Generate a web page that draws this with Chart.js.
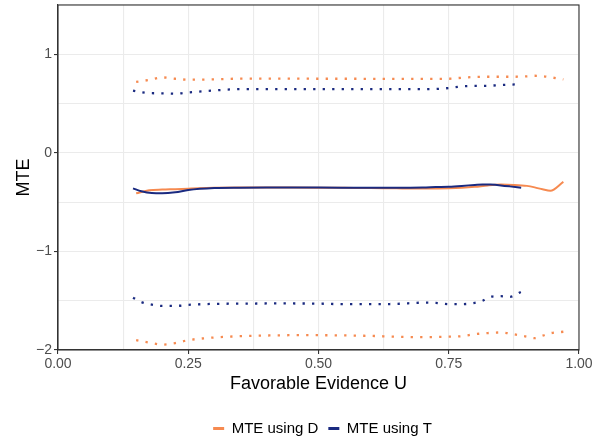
<!DOCTYPE html>
<html>
<head>
<meta charset="utf-8">
<script src="https://cdn.jsdelivr.net/npm/chart.js@4.4.1/dist/chart.umd.min.js"></script>
<style>
  html, body { margin: 0; padding: 0; background: #ffffff; }
  #wrap { width: 595px; height: 442px; position: relative; }
</style>
</head>
<body>
<div id="wrap"><canvas id="c" width="595" height="442"></canvas></div>
<script>
// ---- Data ----
const seriesNames = ['MTE using D', 'MTE using T'];

const xD   = [0.15, 0.175, 0.2, 0.225, 0.25, 0.3, 0.35, 0.4, 0.45, 0.5, 0.55, 0.6, 0.65, 0.7, 0.75, 0.775, 0.8, 0.825, 0.85, 0.875, 0.9, 0.915, 0.93, 0.945, 0.97];
const hiD  = [0.72, 0.74, 0.765, 0.752, 0.742, 0.746, 0.753, 0.753, 0.753, 0.752, 0.752, 0.751, 0.751, 0.751, 0.752, 0.762, 0.77, 0.772, 0.772, 0.772, 0.776, 0.782, 0.778, 0.767, 0.745];
const mteD = [-0.41, -0.38, -0.372, -0.368, -0.363, -0.355, -0.352, -0.352, -0.352, -0.353, -0.355, -0.357, -0.36, -0.362, -0.36, -0.355, -0.345, -0.33, -0.322, -0.325, -0.335, -0.35, -0.37, -0.385, -0.295];
const loD  = [-1.9, -1.925, -1.945, -1.93, -1.9, -1.873, -1.86, -1.853, -1.85, -1.85, -1.852, -1.857, -1.865, -1.87, -1.865, -1.86, -1.84, -1.828, -1.822, -1.84, -1.865, -1.88, -1.855, -1.83, -1.815];

const xT   = [0.144, 0.16, 0.18, 0.2, 0.225, 0.25, 0.3, 0.35, 0.4, 0.45, 0.5, 0.55, 0.6, 0.65, 0.7, 0.725, 0.75, 0.775, 0.8, 0.815, 0.83, 0.85, 0.867, 0.889];
const hiT  = [0.632, 0.616, 0.605, 0.604, 0.6, 0.613, 0.633, 0.646, 0.646, 0.646, 0.646, 0.646, 0.646, 0.646, 0.646, 0.648, 0.658, 0.674, 0.68, 0.68, 0.682, 0.688, 0.692, 0.697];
const mteT = [-0.36, -0.39, -0.408, -0.41, -0.4, -0.377, -0.357, -0.353, -0.352, -0.352, -0.352, -0.353, -0.355, -0.355, -0.352, -0.347, -0.343, -0.335, -0.325, -0.32, -0.322, -0.33, -0.34, -0.355];
const loT  = [-1.47, -1.513, -1.54, -1.553, -1.553, -1.542, -1.532, -1.53, -1.528, -1.528, -1.53, -1.535, -1.535, -1.532, -1.52, -1.522, -1.535, -1.535, -1.522, -1.5, -1.461, -1.454, -1.461, -1.41];

const xTicks = [0, 0.25, 0.5, 0.75, 1];
const xTickLabels = ['0.00', '0.25', '0.50', '0.75', '1.00'];
const yTicks = [-2, -1, 0, 1];
const yTickLabels = ['\u22122', '\u22121', '0', '1'];

// ---- Styling ----
const ORANGE = '#F68A50';
const BLUE = '#1A2A80';
const FONT = "'Liberation Sans', Arial, Helvetica, sans-serif";

const pts = (xs, ys) => xs.map((x, i) => ({ x: x, y: ys[i] }));
const isMajor = (v, list) => list.some(t => Math.abs(t - v) < 1e-6);

function solid(label, xs, ys, color, inLegend) {
  return { label, data: pts(xs, ys), borderColor: color, backgroundColor: color,
    borderWidth: 2, pointRadius: 0, fill: false, cubicInterpolationMode: 'monotone',
    inLegend: inLegend, borderCapStyle: 'butt' };
}
function dotted(label, xs, ys, color) {
  return { label, data: pts(xs, ys), borderColor: color, backgroundColor: color,
    borderWidth: 2.3, borderDash: [2.3, 7.2], borderCapStyle: 'butt', pointRadius: 0,
    fill: false, cubicInterpolationMode: 'monotone', inLegend: false };
}

// Blue (T) first so it is drawn on top of orange (D)
const datasets = [
  solid(seriesNames[1], xT, mteT, BLUE, true),
  dotted(seriesNames[1] + ' upper', xT, hiT, BLUE),
  dotted(seriesNames[1] + ' lower', xT, loT, BLUE),
  solid(seriesNames[0], xD, mteD, ORANGE, true),
  dotted(seriesNames[0] + ' upper', xD, hiD, ORANGE),
  dotted(seriesNames[0] + ' lower', xD, loD, ORANGE)
];

const panelBorder = {
  id: 'panelBorder',
  afterDatasetsDraw(chart) {
    const a = chart.chartArea, ctx = chart.ctx;
    ctx.save();
    ctx.strokeStyle = '#333333';
    ctx.lineWidth = 1.1;
    ctx.strokeRect(a.left, a.top, a.right - a.left, a.bottom - a.top);
    ctx.restore();
  }
};

// centre the legend under the plot panel (as in the reference)
const legendShift = {
  id: 'legendShift',
  afterLayout(chart) {
    const L = chart.legend;
    if (!L) return;
    const a = chart.chartArea;
    const panelCentre = (a.left + a.right) / 2 + 4;
    const cur = (L.left + L.right) / 2;
    const d = panelCentre - cur;
    L.left += d; L.right += d;
    L.top += 4; L.bottom += 4;
  }
};

new Chart(document.getElementById('c'), {
  type: 'line',
  data: { datasets },
  plugins: [panelBorder, legendShift],
  options: {
    responsive: false,
    animation: false,
    devicePixelRatio: 1,
    layout: { padding: { left: 0, right: 16, top: 5, bottom: 0 } },
    plugins: {
      tooltip: { enabled: false },
      legend: {
        position: 'bottom',
        labels: {
          color: '#000000',
          font: { family: FONT, size: 15 },
          boxWidth: 11,
          boxHeight: 3,
          padding: 10,
          generateLabels: (chart) => {
            const ds = chart.data.datasets;
            return seriesNames.map(name => {
              const i = ds.findIndex(d => d.label === name && d.inLegend);
              return { text: name, fillStyle: ds[i].borderColor, strokeStyle: ds[i].borderColor,
                       lineWidth: 0, hidden: false, datasetIndex: i, fontColor: '#000000' };
            });
          }
        }
      }
    },
    scales: {
      x: {
        type: 'linear',
        min: 0, max: 1,
        afterFit: (s) => { s.height = 57; },
        ticks: {
          stepSize: 0.125,
          autoSkip: false,
          maxRotation: 0,
          padding: 2,
          color: '#4D4D4D',
          font: { family: FONT, size: 14 },
          callback: (v) => {
            const k = xTicks.findIndex(t => Math.abs(t - v) < 1e-6);
            return k >= 0 ? xTickLabels[k] : '';
          }
        },
        grid: {
          color: '#EBEBEB',
          lineWidth: 1.1,
          tickLength: 4,
          tickColor: (c) => (c.tick && isMajor(c.tick.value, xTicks)) ? '#333333' : 'rgba(0,0,0,0)',
          tickWidth: 1.1
        },
        border: { color: '#333333', width: 1.1 },
        title: {
          display: true,
          text: 'Favorable Evidence U',
          color: '#000000',
          font: { family: FONT, size: 18 },
          padding: { top: 0, bottom: 12 }
        }
      },
      y: {
        type: 'linear',
        min: -2, max: 1.5,
        afterFit: (s) => { s.width = 58; s.paddingTop = 0; s.paddingBottom = 0; },
        ticks: {
          stepSize: 0.5,
          autoSkip: false,
          padding: 2,
          color: '#4D4D4D',
          font: { family: FONT, size: 14 },
          callback: (v) => {
            const k = yTicks.findIndex(t => Math.abs(t - v) < 1e-6);
            return k >= 0 ? yTickLabels[k] : '';
          }
        },
        grid: {
          color: '#EBEBEB',
          lineWidth: 1.1,
          tickLength: 4,
          tickColor: (c) => (c.tick && isMajor(c.tick.value, yTicks)) ? '#333333' : 'rgba(0,0,0,0)',
          tickWidth: 1.1
        },
        border: { color: '#333333', width: 1.1 },
        title: {
          display: true,
          text: 'MTE',
          color: '#000000',
          font: { family: FONT, size: 18 },
          padding: { top: 13, bottom: 0 }
        }
      }
    }
  }
});
</script>
</body>
</html>
